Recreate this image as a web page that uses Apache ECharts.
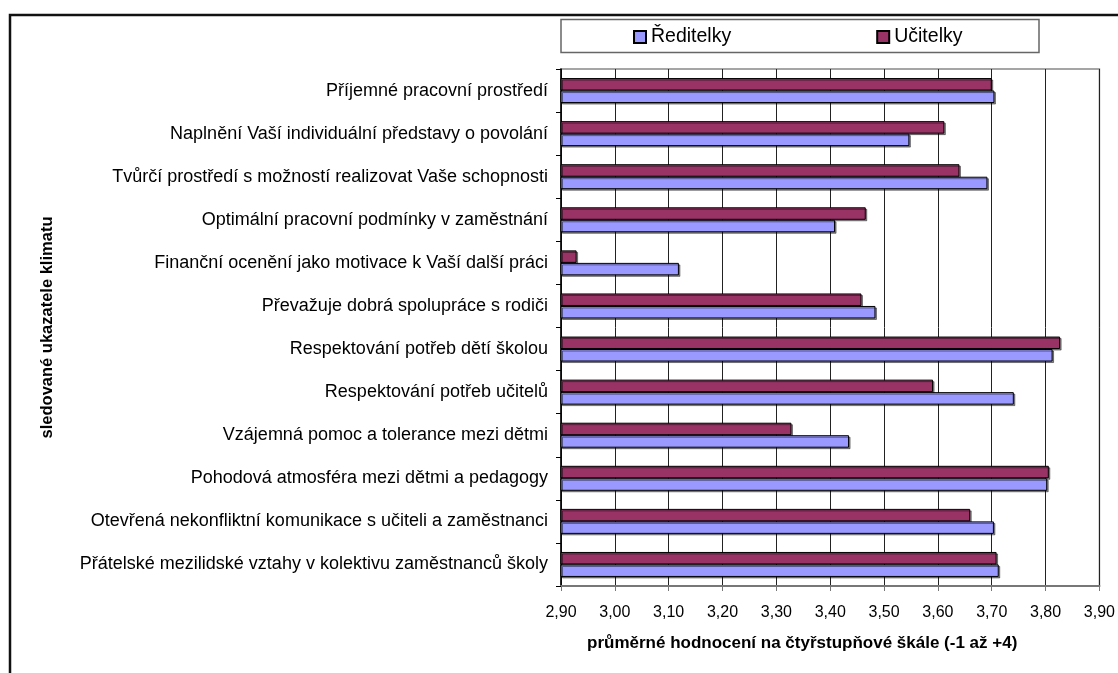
<!DOCTYPE html>
<html>
<head>
<meta charset="utf-8">
<script src="https://cdn.jsdelivr.net/npm/echarts@6/dist/echarts.min.js"></script>
<style>
  html, body { margin: 0; padding: 0; background: #fff; }
  #chart { width: 1118px; height: 673px; }
</style>
</head>
<body>
<div id="chart"></div>
<script>
// sledované ukazatele, shora dolů
const categories = [
  'Příjemné pracovní prostředí',
  'Naplnění Vaší individuální představy o povolání',
  'Tvůrčí prostředí s možností realizovat Vaše schopnosti',
  'Optimální pracovní podmínky v zaměstnání',
  'Finanční ocenění jako motivace k Vaší další práci',
  'Převažuje dobrá spolupráce s rodiči',
  'Respektování potřeb dětí školou',
  'Respektování potřeb učitelů',
  'Vzájemná pomoc a tolerance mezi dětmi',
  'Pohodová atmosféra mezi dětmi a pedagogy',
  'Otevřená nekonfliktní komunikace s učiteli a zaměstnanci',
  'Přátelské mezilidské vztahy v kolektivu zaměstnanců školy'
]
const reditelky = [3.705, 3.547, 3.692, 3.409, 3.119, 3.484, 3.813, 3.741, 3.435, 3.803, 3.704, 3.713]
const ucitelky = [3.700, 3.612, 3.640, 3.466, 2.929, 3.458, 3.827, 3.591, 3.328, 3.806, 3.660, 3.709]
const xMin = 2.9
const xMax = 3.9
const xStep = 0.1

const font = '"Liberation Sans", Arial, sans-serif'
const fmt = v => v.toFixed(2).replace('.', ',')

const myChart = echarts.init(document.getElementById('chart'))

const barStyle = color => ({
  color: color,
  borderColor: '#000',
  borderWidth: 1,
  shadowColor: 'rgba(0,0,0,0.45)',
  shadowOffsetX: 1.5,
  shadowOffsetY: 1.5,
  shadowBlur: 0
})

myChart.setOption({
  animation: false,
  backgroundColor: '#fff',
  textStyle: { fontFamily: font },
  graphic: [
    {
      type: 'rect',
      shape: { x: 10, y: 15, width: 1300, height: 900 },
      style: { fill: 'none', stroke: '#111', lineWidth: 2.5 },
      z: 100
    },
    {
      type: 'rect',
      shape: { x: 561, y: 19.5, width: 478, height: 33 },
      style: { fill: '#fff', stroke: '#666', lineWidth: 1.5 },
      z: 0
    },
    {
      type: 'text',
      left: 587,
      top: 635,
      style: {
        text: 'průměrné hodnocení na čtyřstupňové škále (-1 až +4)',
        font: 'bold 17px ' + font,
        fill: '#000'
      }
    }
  ],
  legend: {
    data: ['Ředitelky', 'Učitelky'],
    left: 633,
    top: 27,
    padding: 0,
    itemWidth: 12,
    itemHeight: 12,
    itemGap: 145,
    icon: 'rect',
    textStyle: { fontSize: 19.5, color: '#000', fontFamily: font }
  },
  grid: {
    left: 561,
    right: 17,
    top: 69,
    height: 517,
    show: true,
    borderColor: '#888',
    borderWidth: 1.5,
    containLabel: false
  },
  xAxis: {
    type: 'value',
    min: xMin,
    max: xMax,
    interval: xStep,
    axisLine: { show: true, lineStyle: { color: '#777', width: 2 } },
    axisTick: { show: true, length: 5, lineStyle: { color: '#777' } },
    axisLabel: {
      formatter: fmt,
      fontSize: 16,
      color: '#000',
      margin: 19,
      fontFamily: font
    },
    splitLine: { show: true, lineStyle: { color: '#222', width: 1 } }
  },
  yAxis: {
    type: 'category',
    data: categories,
    inverse: true,
    name: 'sledované ukazatele klimatu',
    nameLocation: 'middle',
    nameRotate: 90,
    nameGap: 505,
    nameTextStyle: { fontSize: 16.5, fontWeight: 'bold', color: '#000', fontFamily: font },
    axisLine: { show: true, lineStyle: { color: '#000', width: 1.5 } },
    axisTick: { show: true, length: 5, lineStyle: { color: '#000' } },
    axisLabel: { fontSize: 18, color: '#000', margin: 13, fontFamily: font },
    splitLine: { show: false }
  },
  series: [
    {
      name: 'Učitelky',
      type: 'bar',
      data: ucitelky,
      barGap: '0%',
      barCategoryGap: '42%',
      itemStyle: barStyle('#993366')
    },
    {
      name: 'Ředitelky',
      type: 'bar',
      data: reditelky,
      barGap: '0%',
      barCategoryGap: '42%',
      itemStyle: barStyle('#9999ff')
    }
  ]
})
</script>
</body>
</html>
